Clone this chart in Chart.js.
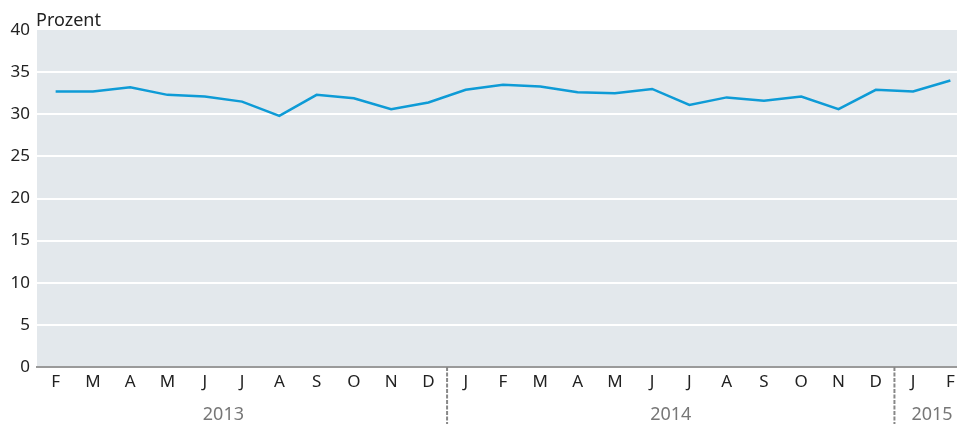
<!DOCTYPE html>
<html>
<head>
<meta charset="utf-8">
<script src="https://cdn.jsdelivr.net/npm/chart.js@4"></script>
<style>
  html, body { margin: 0; padding: 0; background: #fff; overflow: hidden; }
  #wrap { width: 969px; height: 426px; }
</style>
</head>
<body>
<div id="wrap"><canvas id="chart" width="969" height="426"></canvas></div>
<script>
// month labels, Feb 2013 .. Feb 2015
const months = ['F','M','A','M','J','J','A','S','O','N','D',
                'J','F','M','A','M','J','J','A','S','O','N','D',
                'J','F'];
const values = [32.7, 32.7, 33.2, 32.3, 32.1, 31.5, 29.8, 32.3, 31.9, 30.6, 31.4,
                32.9, 33.5, 33.3, 32.6, 32.5, 33.0, 31.1, 32.0, 31.6, 32.1, 30.6, 32.9,
                32.7, 34.0];
const years = ['2013', '2014', '2015'];
// index of each year's January and December (may lie outside the data)
const yearJan = [-1, 11, 23];
const yearDec = [10, 22, 34];
const yTicks = [0, 5, 10, 15, 20, 25, 30, 35, 40];

const FONT = '"Noto Sans", sans-serif';

const decor = {
    id: 'decor',
    beforeDraw(chart) {
        let ctx = chart.ctx, a = chart.chartArea;
        ctx.save();
        ctx.fillStyle = '#e3e8ec';
        ctx.fillRect(a.left, a.top, a.right - a.left, a.bottom - a.top);
        ctx.restore();
    },
    afterDraw(chart) {
        let ctx = chart.ctx, a = chart.chartArea, x = chart.scales.x;
        let step = x.getPixelForValue(1) - x.getPixelForValue(0);
        let px = i => x.getPixelForValue(0) + i * step;
        ctx.save();
        // unit label
        ctx.fillStyle = '#222';
        ctx.font = '18px ' + FONT;
        ctx.textBaseline = 'alphabetic';
        ctx.textAlign = 'left';
        ctx.fillText('Prozent', a.left - 1, 26);
        // year labels
        ctx.fillStyle = '#777';
        ctx.font = '18px ' + FONT;
        ctx.textAlign = 'center';
        ctx.textBaseline = 'middle';
        years.forEach((y, i) => {
            let cx = (px(yearJan[i]) + px(yearDec[i])) / 2;
            cx = Math.min(cx, 932);
            ctx.fillText(y, cx, 415);
        });
        // year separators
        ctx.strokeStyle = '#888';
        ctx.lineWidth = 2;
        ctx.setLineDash([4, 1.5]);
        for (let i = 1; i < years.length; i++) {
            let sx = px(yearJan[i] - 0.5);
            ctx.beginPath();
            ctx.moveTo(sx, a.bottom);
            ctx.lineTo(sx, 424);
            ctx.stroke();
        }
        ctx.restore();
    }
};

new Chart(document.getElementById('chart'), {
    type: 'line',
    data: {
        labels: months,
        datasets: [{
            data: values,
            borderColor: '#0e9bd6',
            borderWidth: 2.5,
            pointRadius: 0,
            fill: false,
            tension: 0
        }]
    },
    options: {
        responsive: false,
        animation: false,
        layout: { padding: { top: 30, left: 0, right: 0, bottom: 0 } },
        plugins: {
            legend: { display: false },
            tooltip: { enabled: false }
        },
        scales: {
            x: {
                offset: true,
                grid: { display: false, drawTicks: false },
                border: { display: true, color: '#9a9a9a', width: 2 },
                ticks: {
                    color: '#222',
                    font: { family: FONT, size: 17 },
                    padding: 5,
                    maxRotation: 0,
                    autoSkip: false
                },
                afterFit(scale) { scale.height = 59; }
            },
            y: {
                min: 0,
                max: 40,
                afterBuildTicks(scale) { scale.ticks = yTicks.map(v => ({ value: v })); },
                grid: {
                    drawTicks: false,
                    lineWidth: 2,
                    color: c => (c.tick.value === 0 || c.tick.value === 40) ? 'rgba(0,0,0,0)' : '#ffffff'
                },
                border: { display: false },
                ticks: {
                    color: '#222',
                    font: { family: FONT, size: 17 },
                    padding: 7
                },
                afterFit(scale) { scale.width = 37; }
            }
        }
    },
    plugins: [decor]
});
</script>
</body>
</html>
